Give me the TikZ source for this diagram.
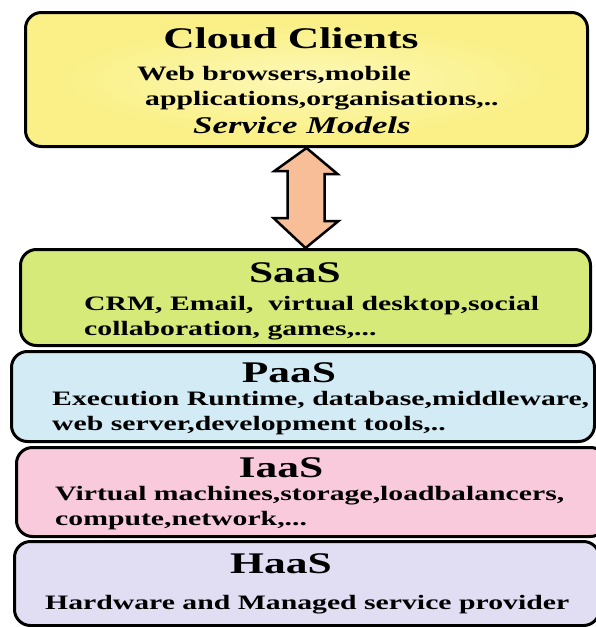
\documentclass[tikz,border=0pt]{standalone}
\usepackage{fontspec}
\setmainfont{Liberation Serif}[FakeStretch=1.45]
\usetikzlibrary{calc}
\definecolor{clientfill}{RGB}{250,240,135}
\definecolor{clientglow}{RGB}{253,248,182}
\definecolor{saasfill}{RGB}{214,234,122}
\definecolor{paasfill}{RGB}{211,235,245}
\definecolor{iaasfill}{RGB}{249,201,220}
\definecolor{haasfill}{RGB}{225,221,242}
\definecolor{arrowfill}{RGB}{247,190,152}
\tikzset{
  layer/.style={draw=black,line width=3pt,rounded corners=16pt,anchor=north west,inner sep=0pt},
  layertitle/.style={font=\bfseries\fontsize{30}{30}\selectfont,anchor=base,inner sep=0pt},
  items/.style={font=\bfseries\fontsize{20.5}{20.5}\selectfont,anchor=base west,inner sep=0pt},
}
\begin{document}
\begin{tikzpicture}[x=1pt,y=-1pt]
  \useasboundingbox (0,0) rectangle (595,627);
  % Cloud clients box with a soft glow in the middle
  \node[layer,fill=clientfill,minimum width=562pt,minimum height=134pt] (clients) at (24,11) {};
  \shade[inner color=clientglow,outer color=clientfill] (305,80) ellipse (250pt and 56pt);
  % Service layers, top to bottom
  \node[layer,fill=saasfill,minimum width=570pt,minimum height=96pt] (saas) at (19,248) {};
  \node[layer,fill=paasfill,minimum width=583pt,minimum height=90pt] (paas) at (10,350) {};
  \node[layer,fill=iaasfill,minimum width=590pt,minimum height=89pt] (iaas) at (15,446) {};
  \node[layer,fill=haasfill,minimum width=585pt,minimum height=84pt] (haas) at (13,540) {};
  % Two-headed block arrow between clients and SaaS
  \draw[line width=2.5pt,fill=arrowfill,line join=miter]
    (clients.south) -- ++(31,26) -- ++(-13,0) -- ++(0,47) -- ++(14,0)
    -- (saas.north) -- ++(-32,-30) -- ++(14,0) -- ++(0,-47) -- ++(-13,0) -- cycle;
  % Texts
  \node[layertitle] (clientsT) at (291,48) {Cloud Clients};
  \node[items] (clientsA) at (137,80) {Web browsers,mobile};
  \node[items] (clientsB) at (145,105) {applications,organisations,..};
  \node[items,font=\bfseries\itshape\fontsize{24}{24}\selectfont] (models) at (193,133) {Service Models};
  \node[layertitle] (saasT) at (295,282) {SaaS};
  \node[items] (saasA) at (84,310) {CRM, Email,\ \ virtual desktop,social};
  \node[items] (saasB) at (84,335) {collaboration, games,...};
  \node[layertitle] (paasT) at (289,382) {PaaS};
  \node[items] (paasA) at (52,405) {Execution Runtime, database,middleware,};
  \node[items] (paasB) at (52,430) {web server,development tools,..};
  \node[layertitle] (iaasT) at (281,477) {IaaS};
  \node[items] (iaasA) at (55,500) {Virtual machines,storage,loadbalancers,};
  \node[items] (iaasB) at (55,525) {compute,network,...};
  \node[layertitle] (haasT) at (281,573) {HaaS};
  \node[items] (haasA) at (45,609) {Hardware and Managed service provider};
\end{tikzpicture}
\end{document}
